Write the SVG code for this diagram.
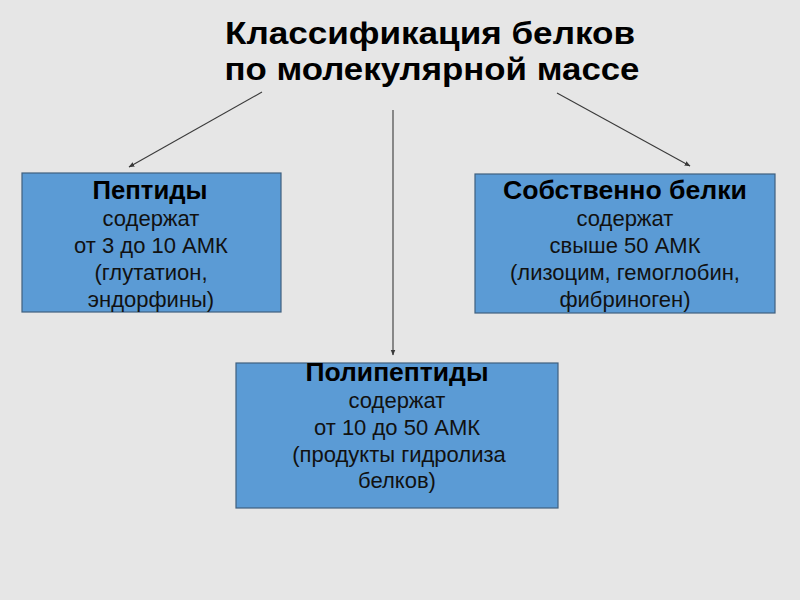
<svg xmlns="http://www.w3.org/2000/svg" width="800" height="600" viewBox="0 0 800 600">
<defs>
<style>
.bg{fill:#e6e6e6}
.title{font-family:"Liberation Sans",Arial,sans-serif;font-weight:bold;font-size:31px;fill:#000;text-anchor:middle}
.box{fill:#5b9bd5;stroke:#40607f;stroke-width:1.2}
.h{font-family:"Liberation Sans",Arial,sans-serif;font-weight:bold;font-size:25px;fill:#000;text-anchor:middle}
.t{font-family:"Liberation Sans",Arial,sans-serif;font-size:22px;fill:#111;text-anchor:middle}
.conn{stroke:#3a3a3a;stroke-width:1.1;fill:none;marker-end:url(#ah)}
</style>
<marker id="ah" viewBox="0 0 10 10" refX="9" refY="5" markerWidth="6" markerHeight="6" orient="auto" markerUnits="userSpaceOnUse">
<path d="M0,1 L10,5 L0,9 z" fill="#3a3a3a"/>
</marker>
</defs>
<rect class="bg" x="0" y="0" width="800" height="600"/>
<g id="title">
<text class="title" x="430" y="44" textLength="410" lengthAdjust="spacingAndGlyphs">Классификация белков</text>
<text class="title" x="432" y="80" textLength="415" lengthAdjust="spacingAndGlyphs">по молекулярной массе</text>
</g>
<g id="connectors">
<line class="conn" x1="262" y1="92" x2="129" y2="167"/>
<line class="conn" x1="557" y1="93" x2="690" y2="166"/>
<line class="conn" x1="393" y1="110" x2="393" y2="355"/>
</g>
<g id="peptides">
<rect class="box" x="22" y="173" width="259" height="139"/>
<text class="h" x="150" y="199" textLength="115" lengthAdjust="spacingAndGlyphs">Пептиды</text>
<text class="t" x="151" y="226">содержат</text>
<text class="t" x="151" y="253">от 3 до 10 АМК</text>
<text class="t" x="151" y="280">(глутатион,</text>
<text class="t" x="151" y="307">эндорфины)</text>
</g>
<g id="proteins">
<rect class="box" x="475" y="174" width="300" height="139"/>
<text class="h" x="625" y="199" textLength="244" lengthAdjust="spacingAndGlyphs">Собственно белки</text>
<text class="t" x="625" y="226">содержат</text>
<text class="t" x="625" y="253">свыше 50 АМК</text>
<text class="t" x="625" y="280">(лизоцим, гемоглобин,</text>
<text class="t" x="625" y="307">фибриноген)</text>
</g>
<g id="polypeptides">
<rect class="box" x="236" y="363" width="322" height="145"/>
<text class="h" x="397" y="381" textLength="183" lengthAdjust="spacingAndGlyphs">Полипептиды</text>
<text class="t" x="397" y="408">содержат</text>
<text class="t" x="397" y="435">от 10 до 50 АМК</text>
<text class="t" x="399" y="462">(продукты гидролиза</text>
<text class="t" x="397" y="488">белков)</text>
</g>
</svg>
